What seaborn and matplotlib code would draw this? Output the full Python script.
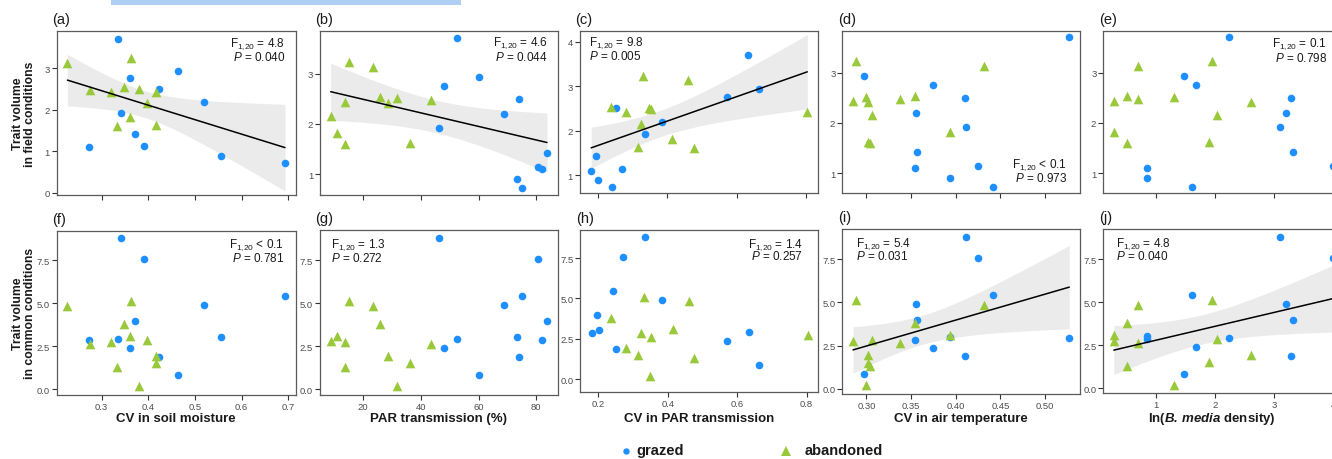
import numpy as np
import pandas as pd
import matplotlib
matplotlib.use("Agg")
import matplotlib.pyplot as plt
import seaborn as sns
from matplotlib.lines import Line2D
from matplotlib.patches import Rectangle

# ---------------- data ----------------
groups = ["grazed"] * 11 + ["abandoned"] * 11

trait_field_grazed = [3.71, 2.93, 2.76, 2.50, 2.20, 1.92, 1.43, 1.14, 1.10, 0.90, 0.73]
trait_field_aband = [3.13, 3.24, 2.48, 2.43, 2.54, 2.51, 2.42, 1.63, 2.16, 1.82, 1.60]
trait_common_grazed = [2.93, 0.86, 2.38, 1.90, 4.90, 8.81, 4.00, 7.56, 2.85, 3.02, 5.44]
trait_common_aband = [4.86, 5.12, 2.64, 2.77, 3.80, 0.21, 1.96, 1.51, 2.84, 3.12, 1.31]

soil_cv_grazed = [0.335, 0.463, 0.361, 0.424, 0.520, 0.341, 0.371, 0.390, 0.274, 0.557, 0.693]
soil_cv_aband = [0.227, 0.363, 0.275, 0.320, 0.349, 0.381, 0.416, 0.416, 0.398, 0.360, 0.334]
par_grazed = [52.4, 60.2, 48.0, 74.1, 68.8, 46.3, 83.7, 80.7, 81.8, 73.2, 75.0]
par_aband = [23.3, 14.9, 43.4, 13.8, 25.9, 31.6, 28.5, 36.2, 8.7, 11.0, 13.7]
par_cv_grazed = [0.633, 0.664, 0.571, 0.252, 0.384, 0.335, 0.195, 0.271, 0.181, 0.201, 0.242]
par_cv_aband = [0.460, 0.331, 0.352, 0.803, 0.237, 0.348, 0.280, 0.315, 0.323, 0.414, 0.477]
air_cv_grazed = [0.527, 0.297, 0.375, 0.410, 0.356, 0.411, 0.357, 0.425, 0.354, 0.394, 0.442]
air_cv_aband = [0.432, 0.288, 0.338, 0.285, 0.354, 0.300, 0.302, 0.302, 0.306, 0.393, 0.304]
ln_density_grazed = [2.23, 1.46, 1.67, 3.29, 3.20, 3.10, 3.31, 4.00, 0.84, 0.84, 1.61]
ln_density_aband = [0.688, 1.94, 0.688, 0.278, 0.506, 1.295, 2.61, 1.90, 2.03, 0.278, 0.506]

x_vars = ["soil", "par", "parcv", "air", "lnd"]
x_titles = ["CV in soil moisture", "PAR transmission (%)", "CV in PAR transmission",
            "CV in air temperature", r"ln($\mathbfit{B.\,media}$ density)"]
panel_letters = ["(a)", "(b)", "(c)", "(d)", "(e)", "(f)", "(g)", "(h)", "(i)", "(j)"]
SUB = r"F$_{\mathrm{1{,}20}}$"
f_texts = [SUB + " = 4.8", SUB + " = 4.6", SUB + " = 9.8", SUB + " < 0.1", SUB + " = 0.1",
           SUB + " < 0.1", SUB + " = 1.3", SUB + " = 1.4", SUB + " = 5.4", SUB + " = 4.8"]
p_texts = [r"$P$ = 0.040", r"$P$ = 0.044", r"$P$ = 0.005", r"$P$ = 0.973", r"$P$ = 0.798",
           r"$P$ = 0.781", r"$P$ = 0.272", r"$P$ = 0.257", r"$P$ = 0.031", r"$P$ = 0.040"]
significant = [True, True, True, False, False, False, False, False, True, True]

df = pd.DataFrame({
    "group": groups,
    "field": trait_field_grazed + trait_field_aband,
    "common": trait_common_grazed + trait_common_aband,
    "soil": soil_cv_grazed + soil_cv_aband,
    "par": par_grazed + par_aband,
    "parcv": par_cv_grazed + par_cv_aband,
    "air": air_cv_grazed + air_cv_aband,
    "lnd": ln_density_grazed + ln_density_aband,
})

# ---------------- style ----------------
sns.set_theme(style="white")
plt.rcParams["font.family"] = ["Liberation Sans", "DejaVu Sans"]
plt.rcParams["mathtext.fontset"] = "custom"
plt.rcParams["mathtext.rm"] = "Liberation Sans"
plt.rcParams["mathtext.it"] = "Liberation Sans:italic"
plt.rcParams["mathtext.bf"] = "Liberation Sans:bold"
plt.rcParams["mathtext.bfit"] = "Liberation Sans:italic:bold"

BLUE = "#1e8fff"
GREEN = "#99c93a"
BAND = "#ebebeb"
W, H = 1332, 460

fig = plt.figure(figsize=(W / 100, H / 100), dpi=100)

def fx(px):
    return px / W

def fy(py):
    return 1 - py / H

# panel boxes in pixels: left, top, right, bottom
boxes = [
    (56.7, 32.3, 295.7, 196.0), (320.0, 32.3, 557.7, 195.7), (579.7, 31.7, 817.7, 194.3),
    (842.3, 31.7, 1080.0, 194.3), (1103.3, 31.7, 1344.0, 194.3),
    (56.7, 231.7, 295.7, 395.7), (320.0, 230.7, 557.7, 395.7), (580.3, 230.7, 818.0, 393.3),
    (842.3, 230.0, 1080.0, 394.7), (1103.3, 230.0, 1344.0, 394.0),
]
xlims = [(0.204, 0.716), (5.0, 87.4), (0.148, 0.833), (0.273, 0.539), (0.10, 4.18)]
ylims = [(-0.05, 3.89), (0.595, 3.84), (0.59, 4.25), (0.60, 3.835), (0.60, 3.835),
         (-0.31, 9.22), (-0.31, 9.28), (-0.80, 9.25), (-0.29, 9.26), (-0.27, 9.26)]
xticks = [[0.3, 0.4, 0.5, 0.6, 0.7], [20, 40, 60, 80], [0.2, 0.4, 0.6, 0.8],
          [0.30, 0.35, 0.40, 0.45, 0.50], [1, 2, 3, 4]]
xticklabels = [["0.3", "0.4", "0.5", "0.6", "0.7"], ["20", "40", "60", "80"],
               ["0.2", "0.4", "0.6", "0.8"], ["0.30", "0.35", "0.40", "0.45", "0.50"],
               ["1", "2", "3", "4"]]
yticks_top = [[0, 1, 2, 3], [1, 2, 3], [1, 2, 3, 4], [1, 2, 3], [1, 2, 3]]
yticks_bot = [0, 2.5, 5.0, 7.5]

# annotation anchor (px): x, y of F line, y of P line, ha
annots = [
    (285.0, 44, 57.5, "right"), (547.7, 43, 57.5, "right"), (588.7, 43, 56.5, "left"),
    (1067.0, 165, 179, "right"), (1327.0, 44, 59, "right"),
    (284.0, 245, 259, "right"), (330.7, 245, 258.5, "left"), (803.3, 245, 257, "right"),
    (855.7, 244, 257, "left"), (1115.7, 244, 257, "left"),
]

T_CRIT = 2.086  # t(0.975, df = 20)

for i in range(10):
    row, col = divmod(i, 5)
    l, t, r, b = boxes[i]
    ax = fig.add_axes([fx(l), fy(b), (r - l) / W, (b - t) / H])
    xv = x_vars[col]
    yv = "field" if row == 0 else "common"

    if significant[i]:
        x = df[xv].to_numpy()
        y = df[yv].to_numpy()
        n = len(x)
        slope, icpt = np.polyfit(x, y, 1)
        resid = y - (icpt + slope * x)
        s = np.sqrt(np.sum(resid ** 2) / (n - 2))
        xs = np.linspace(x.min(), x.max(), 80)
        yhat = icpt + slope * xs
        se = s * np.sqrt(1 / n + (xs - x.mean()) ** 2 / np.sum((x - x.mean()) ** 2))
        ax.fill_between(xs, yhat - T_CRIT * se, yhat + T_CRIT * se, color=BAND, lw=0, zorder=1)
        sns.lineplot(x=xs, y=yhat, color="black", lw=1.1, ax=ax, zorder=4)

    sub_g = df[df.group == "grazed"]
    sub_a = df[df.group == "abandoned"]
    sns.scatterplot(data=sub_g, x=xv, y=yv, color=BLUE, marker="o", s=30,
                    linewidth=0, ax=ax, zorder=3, legend=False)
    sns.scatterplot(data=sub_a, x=xv, y=yv, color=GREEN, marker="^", s=48,
                    linewidth=0, ax=ax, zorder=3, legend=False)

    ax.set_xlim(*xlims[col])
    ax.set_ylim(*ylims[i])
    ax.set_xticks(xticks[col])
    if row == 0:
        ax.set_xticklabels([])
        ax.set_yticks(yticks_top[col])
        ax.set_yticklabels([str(v) for v in yticks_top[col]])
    else:
        ax.set_xticklabels(xticklabels[col])
        ax.set_yticks(yticks_bot)
        ax.set_yticklabels(["0.0", "2.5", "5.0", "7.5"])
    ax.set_xlabel("")
    ax.set_ylabel("")
    ax.tick_params(axis="both", which="both", direction="out", length=3.5, width=0.8,
                   color="#333333", labelsize=6.8, labelcolor="#4d4d4d", pad=1.5,
                   bottom=True, left=True)
    for sp in ax.spines.values():
        sp.set_visible(True)
        sp.set_color("#5a5a5a")
        sp.set_linewidth(0.9)

    # panel letter
    fig.text(fx(l - 4.5), fy(t - 12), panel_letters[i], fontsize=10.5,
             ha="left", va="center", color="#1a1a1a")
    # stats
    ax_x, yF, yP, ha = annots[i]
    fig.text(fx(ax_x), fy(yF), f_texts[i], fontsize=8.5, ha=ha, va="center", color="#1a1a1a")
    fig.text(fx(ax_x), fy(yP), p_texts[i], fontsize=8.5, ha=ha, va="center", color="#1a1a1a")
    # x titles on bottom row
    if row == 1:
        cx = (l + 1332) / 2 - 6 if col == 4 else (l + r) / 2
        fig.text(fx(cx), fy(419.5), x_titles[col], fontsize=9.5, fontweight="bold",
                 ha="center", va="center", color="#1a1a1a")

# y titles
fig.text(fx(24.5), fy(114), "Trait volume\nin field conditions", rotation=90,
         fontsize=8.8, fontweight="bold", ha="center", va="center", multialignment="center",
         linespacing=1.0, color="#1a1a1a")
fig.text(fx(24.5), fy(313.5), "Trait volume\nin common conditions", rotation=90,
         fontsize=8.8, fontweight="bold", ha="center", va="center", multialignment="center",
         linespacing=1.0, color="#1a1a1a")

# legend
fig.add_artist(Line2D([fx(625.7)], [fy(452.3)], marker="o", color=BLUE, ms=4.6, lw=0,
                      markeredgewidth=0, transform=fig.transFigure))
fig.text(fx(636.7), fy(451.5), "grazed", fontsize=10.5, fontweight="bold",
         ha="left", va="center", color="#1a1a1a")
fig.add_artist(Line2D([fx(785.7)], [fy(452.3)], marker="^", color=GREEN, ms=6.5, lw=0,
                      markeredgewidth=0, transform=fig.transFigure))
fig.text(fx(804.3), fy(451.5), "abandoned", fontsize=10.5, fontweight="bold",
         ha="left", va="center", color="#1a1a1a")

# light blue strip at the top edge
fig.add_artist(Rectangle((fx(111), fy(5.7)), (461 - 111) / W, 5.7 / H,
                         transform=fig.transFigure, color="#b0cff5", lw=0))

fig.savefig("out.png", dpi=100)
